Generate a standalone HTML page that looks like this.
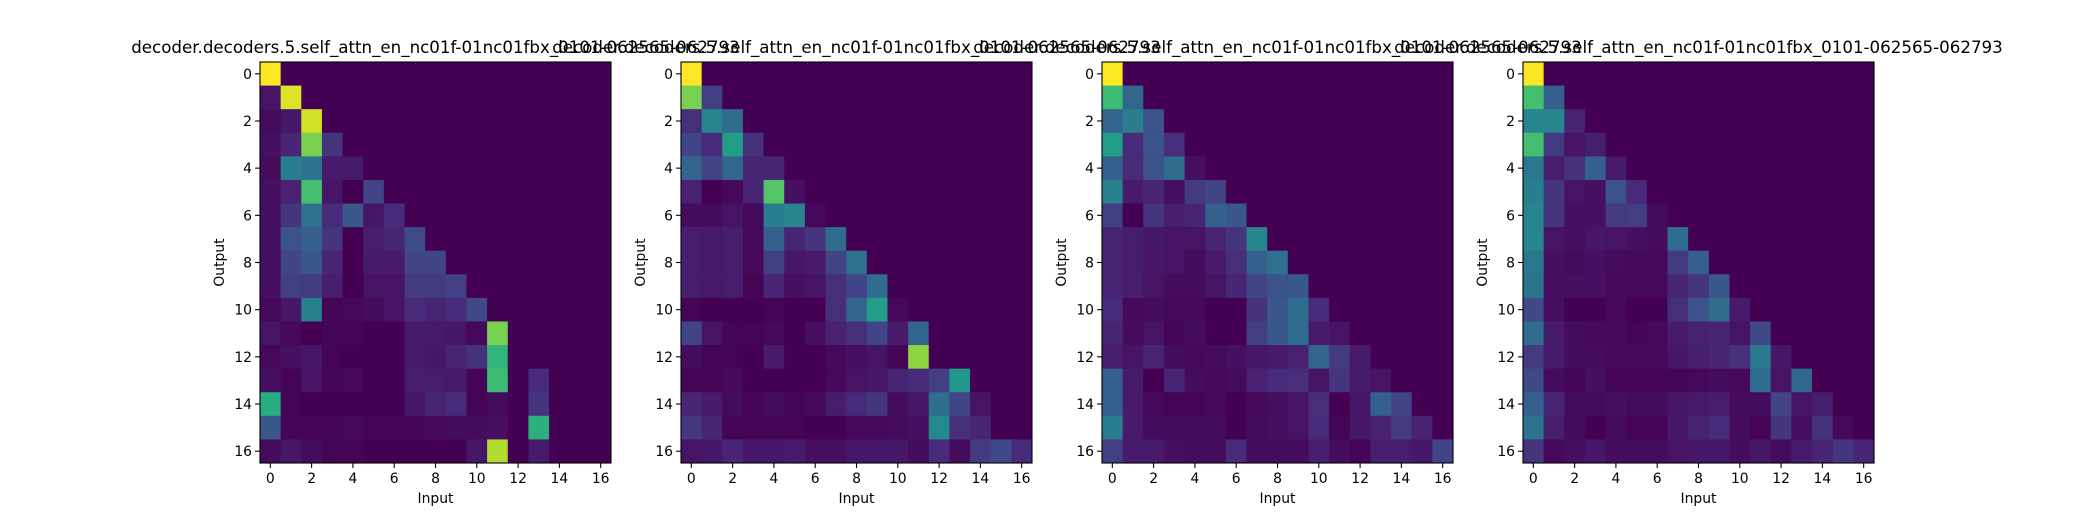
<!DOCTYPE html>
<html><head><meta charset="utf-8"><style>
html,body{margin:0;padding:0;background:#fff;}
svg{display:block;}
text{font-family:"DejaVu Sans","Liberation Sans",sans-serif;fill:#000;}
</style></head>
<body>
<svg id="fig" width="2080" height="520" viewBox="0 0 2080 520" xmlns="http://www.w3.org/2000/svg"></svg>
<script>
const titleText = "decoder.decoders.5.self_attn_en_nc01f-01nc01fbx_0101-062565-062793";
const xTicks = [0,2,4,6,8,10,12,14,16];
const yTicks = [0,2,4,6,8,10,12,14,16];
const map1 = [
[1.0],
[0.05,0.95],
[0.03,0.06,0.93],
[0.04,0.1,0.8,0.15],
[0.03,0.42,0.38,0.07,0.07],
[0.04,0.09,0.7,0.06,0.0,0.2],
[0.04,0.15,0.37,0.12,0.27,0.06,0.12],
[0.04,0.25,0.3,0.15,0.0,0.08,0.1,0.23],
[0.04,0.2,0.27,0.1,0.0,0.07,0.07,0.2,0.2],
[0.04,0.18,0.17,0.08,0.0,0.05,0.05,0.17,0.17,0.19],
[0.02,0.06,0.43,0.01,0.02,0.03,0.05,0.12,0.1,0.12,0.22],
[0.05,0.02,0.0,0.01,0.01,0,0,0.07,0.07,0.06,0.02,0.8],
[0.02,0.04,0.06,0.01,0,0,0,0.07,0.06,0.1,0.14,0.65],
[0.04,0.01,0.05,0.01,0.02,0,0,0.08,0.08,0.07,0.01,0.68,0,0.12],
[0.62,0.01,0,0,0,0,0,0.06,0.1,0.12,0.01,0.03,0,0.15],
[0.27,0.01,0.01,0.01,0.02,0.01,0.01,0.01,0.02,0.03,0.03,0.04,0,0.63],
[0.03,0.06,0.03,0.01,0.01,0,0,0,0,0,0.06,0.88,0,0.07,0,0,0]
];
const map2 = [
[1],
[0.8,0.18],
[0.13,0.45,0.35],
[0.2,0.12,0.55,0.14],
[0.32,0.2,0.33,0.1,0.1],
[0.09,0,0.02,0.1,0.73,0.04],
[0.03,0.03,0.05,0.02,0.42,0.45,0.02],
[0.08,0.07,0.08,0.02,0.3,0.1,0.15,0.35],
[0.08,0.07,0.08,0.02,0.18,0.06,0.07,0.2,0.37],
[0.08,0.07,0.08,0.01,0.1,0.04,0.05,0.13,0.2,0.35],
[0.01,0,0,0,0.01,0,0,0.13,0.32,0.55,0.02],
[0.2,0.05,0.01,0.01,0.02,0,0.04,0.09,0.13,0.2,0.07,0.32],
[0.03,0.01,0.01,0,0.07,0,0,0.02,0.04,0.05,0.01,0.83],
[0.01,0.01,0.02,0,0,0,0,0.02,0.05,0.06,0.1,0.12,0.18,0.52],
[0.1,0.07,0.03,0.01,0.03,0.01,0.02,0.08,0.12,0.15,0.03,0.06,0.36,0.2,0.05],
[0.16,0.1,0.01,0.01,0.01,0.01,0,0,0.02,0.02,0.03,0.04,0.47,0.13,0.1],
[0.05,0.06,0.1,0.06,0.06,0.07,0.04,0.04,0.06,0.06,0.06,0.03,0.12,0.03,0.17,0.22,0.12]
];
const map3 = [
[1],
[0.68,0.33],
[0.32,0.42,0.25],
[0.55,0.12,0.25,0.13],
[0.3,0.12,0.25,0.35,0.04],
[0.43,0.07,0.1,0.04,0.17,0.2],
[0.18,0,0.15,0.08,0.1,0.3,0.27],
[0.1,0.08,0.06,0.05,0.05,0.1,0.15,0.45],
[0.1,0.08,0.06,0.05,0.03,0.07,0.13,0.3,0.37],
[0.1,0.08,0.05,0.03,0.03,0.05,0.1,0.2,0.25,0.27],
[0.12,0.02,0.03,0.02,0.02,0,0,0.14,0.27,0.35,0.12],
[0.1,0.03,0.05,0.01,0.03,0,0,0.18,0.27,0.35,0.07,0.05],
[0.08,0.05,0.1,0.03,0.02,0.03,0.04,0.06,0.07,0.09,0.32,0.17,0.07],
[0.3,0.07,0,0.1,0.03,0.02,0.03,0.09,0.12,0.13,0.05,0.15,0.07,0.05],
[0.3,0.07,0.02,0.01,0.01,0.02,0,0.02,0.04,0.05,0.13,0,0.06,0.3,0.2],
[0.42,0.07,0.03,0.03,0.03,0.03,0,0.03,0.04,0.05,0.12,0.01,0.06,0.09,0.17,0.09],
[0.18,0.07,0.07,0.04,0.03,0.03,0.12,0.03,0.03,0.03,0.08,0.03,0.01,0.08,0.08,0.06,0.2]
];
const map4 = [
[1],
[0.7,0.3],
[0.45,0.45,0.1],
[0.7,0.17,0.05,0.08],
[0.4,0.08,0.14,0.3,0.07],
[0.42,0.15,0.05,0.04,0.25,0.12],
[0.45,0.15,0.04,0.04,0.17,0.18,0.03],
[0.45,0.05,0.04,0.06,0.05,0.04,0.03,0.35],
[0.4,0.04,0.03,0.04,0.03,0.02,0.02,0.17,0.3],
[0.38,0.04,0.04,0.04,0.02,0.02,0.02,0.1,0.15,0.27],
[0.22,0.04,0,0,0.02,0,0,0.13,0.25,0.35,0.07],
[0.35,0.07,0.03,0.02,0.02,0.01,0.02,0.07,0.09,0.1,0.05,0.22],
[0.17,0.07,0.03,0.03,0.02,0.02,0.02,0.06,0.08,0.1,0.14,0.4,0.06],
[0.22,0.03,0.01,0.04,0.01,0.01,0.01,0.01,0.02,0.03,0.02,0.35,0.05,0.33],
[0.3,0.1,0.03,0.03,0.04,0.03,0.03,0.06,0.07,0.08,0.03,0.03,0.2,0.05,0.08],
[0.38,0.08,0.03,0,0.03,0.01,0.01,0.06,0.09,0.12,0.03,0.01,0.15,0.04,0.14,0.02],
[0.15,0.02,0.04,0.06,0.03,0.03,0.03,0.05,0.06,0.06,0.03,0.06,0.03,0.07,0.1,0.15,0.1]
];
const maps = [map1,map2,map3,map4];

const VIR = ["#440154","#482475","#414487","#355f8d","#2a788e","#21918c","#22a884","#44bf70","#7ad151","#bddf26","#fde725"];
function hex(h){return [parseInt(h.substr(1,2),16),parseInt(h.substr(3,2),16),parseInt(h.substr(5,2),16)];}
function viridis(v){
  v=Math.max(0,Math.min(1,v)); const p=v*10, i=Math.min(9,Math.floor(p)), t=p-i;
  const a=hex(VIR[i]), b=hex(VIR[i+1]);
  return "rgb("+a.map((c,k)=>Math.round(c+(b[k]-c)*t)).join(",")+")";
}
const NS="http://www.w3.org/2000/svg";
const svg=document.getElementById('fig');
function mk(tag,attrs,parent){const e=document.createElementNS(NS,tag);for(const k in attrs)e.setAttribute(k,attrs[k]);(parent||svg).appendChild(e);return e;}
const N=17, AX_TOP=62, AX_H=401, AX_W=351;
maps.forEach((m,pi)=>{
  const x0=260+pi*421;
  const g=mk('g',{});
  
  
  const xs=c=>x0+c*AX_W/N, ys=r=>AX_TOP+r*AX_H/N;
  const xc=c=>x0+(c+0.5)*AX_W/N, yc=r=>AX_TOP+(r+0.5)*AX_H/N;
  for(let r=0;r<N;r++)for(let c=0;c<N;c++){
    const v=(m[r]&&m[r][c]!==undefined)?m[r][c]:0;
    const rc=mk('rect',{x:xs(c).toFixed(2),y:ys(r).toFixed(2),width:(xs(c+1)-xs(c)+0.5).toFixed(2),height:(ys(r+1)-ys(r)+0.5).toFixed(2),fill:viridis(v)},g);
    
    
  }
  const fr=mk('rect',{x:x0,y:AX_TOP,width:AX_W,height:AX_H,fill:'none',stroke:'#000','stroke-width':1.1},g);
  
  
  xTicks.forEach(t=>{
    const x=xc(t);
    mk('line',{x1:x,x2:x,y1:AX_TOP+AX_H,y2:AX_TOP+AX_H+4.9,stroke:'#000','stroke-width':1.1},g);
    const tx=mk('text',{x:x,y:AX_TOP+AX_H+20,'font-size':'13.9','text-anchor':'middle'},g);
    tx.textContent=t;
    
    
  });
  yTicks.forEach(t=>{
    const y=yc(t);
    mk('line',{x1:x0,x2:x0-4.9,y1:y,y2:y,stroke:'#000','stroke-width':1.1},g);
    const tx=mk('text',{x:x0-8,y:y+5,'font-size':'13.9','text-anchor':'end'},g);
    tx.textContent=t;
    
    
  });
  const xl=mk('text',{x:x0+AX_W/2,y:503,'font-size':'13.9','text-anchor':'middle'},g);
  xl.textContent='Input';
  
  
  const yl=mk('text',{x:0,y:0,'font-size':'13.9','text-anchor':'middle',transform:'translate('+(x0-36)+','+(AX_TOP+AX_H/2)+') rotate(-90)'},g);
  yl.textContent='Output';
  
  
  const tt=mk('text',{x:x0+AX_W/2,y:53,'font-size':'16.67','text-anchor':'middle'},g);
  tt.textContent=titleText;
  
  
});
</script>
</body></html>
